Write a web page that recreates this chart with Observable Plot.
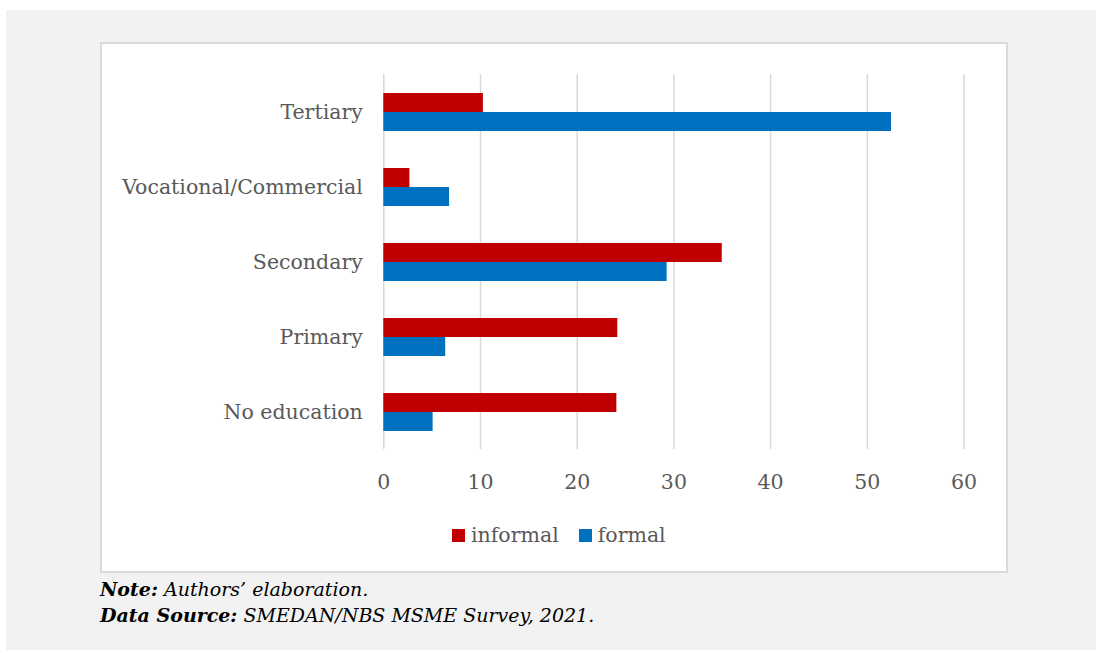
<!DOCTYPE html>
<html>
<head>
<meta charset="utf-8">
<script src="https://cdn.jsdelivr.net/npm/d3@7"></script>
<script src="https://cdn.jsdelivr.net/npm/@observablehq/plot@0.6"></script>
<style>
  html, body { margin: 0; padding: 0; background: #fff; width: 1096px; height: 653px; overflow: hidden; }
  #panel { position: absolute; left: 6px; top: 10px; width: 1090px; height: 640px; background: #f2f2f2; }
  #box { position: absolute; left: 100px; top: 42px; width: 904px; height: 527px; background: #fff; border: 2px solid #dadada; }
  #chart { position: absolute; left: 0; top: 0; }
  #legend { position: absolute; left: 350px; top: 479px; display: flex; align-items: center; font-family: "DejaVu Serif", serif; font-size: 20.5px; color: #595959; }
  #legend .item { display: flex; align-items: center; margin-right: 20px; }
  #legend .sw { width: 13px; height: 13px; margin-right: 6px; }
  #note { position: absolute; left: 100px; top: 576px; font-family: "DejaVu Serif", serif; font-style: italic; font-size: 19px; line-height: 26px; color: #000; }
  #note b { font-weight: bold; }
</style>
</head>
<body>
<div id="panel"></div>
<div id="box">
  <div id="chart"></div>
  <div id="legend"></div>
</div>
<div id="note"><b>Note:</b> Authors’ elaboration.<br><b>Data Source:</b> SMEDAN/NBS MSME Survey, 2021.</div>
<script>
const categories = ["Tertiary", "Vocational/Commercial", "Secondary", "Primary", "No education"];
const seriesNames = ["informal", "formal"];
const informal = [10.3, 2.7, 35.0, 24.2, 24.1];
const formal = [52.5, 6.8, 29.3, 6.4, 5.1];
const seriesColors = ["#c00000", "#0070c0"];
const xTicks = [0, 10, 20, 30, 40, 50, 60];

const data = [];
categories.forEach((c, i) => {
  data.push({category: c, series: "informal", value: informal[i]});
  data.push({category: c, series: "formal", value: formal[i]});
});

const chart = Plot.plot({
  width: 904,
  height: 480,
  marginLeft: 281.3,
  marginRight: 42.5,
  marginTop: 28,
  marginBottom: 73.3,
  style: { fontFamily: "DejaVu Serif, serif", fontSize: "20.5px", color: "#595959", background: "transparent" },
  x: { domain: [0, 60], ticks: xTicks, tickSize: 0, tickPadding: 25, label: null },
  y: { domain: seriesNames, axis: null, paddingInner: 0, paddingOuter: 0.92 },
  fy: { domain: categories, padding: 0, tickSize: 0, tickPadding: 21, label: null },
  color: { domain: seriesNames, range: seriesColors },
  marks: [
    Plot.gridX(xTicks, { stroke: "#d9d9d9", strokeOpacity: 1, strokeWidth: 1.5 }),
    Plot.barX(data, { fy: "category", y: "series", x: "value", fill: "series", insetTop: 0, insetBottom: 0 })
  ]
});
document.getElementById("chart").appendChild(chart);

const legend = document.getElementById("legend");
seriesNames.forEach((s, i) => {
  const item = document.createElement("div");
  item.className = "item";
  const sw = document.createElement("span");
  sw.className = "sw";
  sw.style.background = seriesColors[i];
  const t = document.createElement("span");
  t.textContent = s;
  item.appendChild(sw);
  item.appendChild(t);
  legend.appendChild(item);
});
</script>
</body>
</html>
